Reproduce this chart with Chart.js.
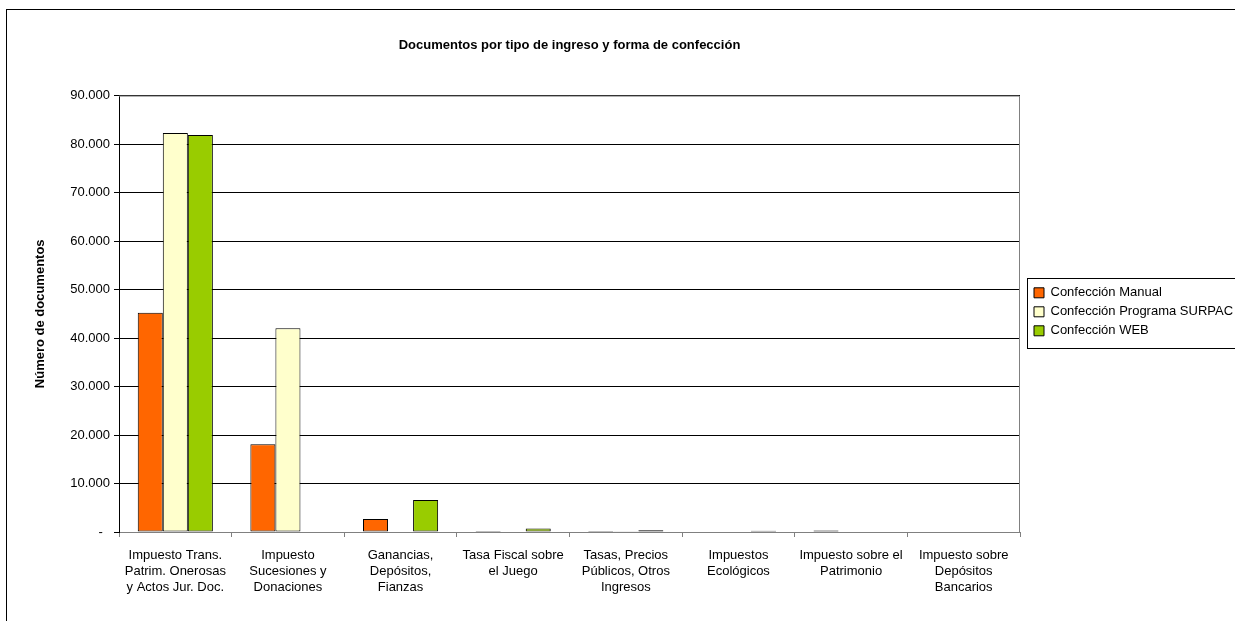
<!DOCTYPE html>
<html>
<head>
<meta charset="utf-8">
<script src="https://cdn.jsdelivr.net/npm/chart.js@4/dist/chart.umd.min.js"></script>
<style>
  html, body { margin: 0; padding: 0; background: #fff; overflow: hidden; width: 1235px; height: 621px; }
  #frame { position: absolute; left: 6px; top: 9px; width: 1240px; height: 620px; border: 1px solid #000; }
  #chart { display: block; }
</style>
</head>
<body>
<div id="frame"><canvas id="chart" width="1240" height="612"></canvas></div>
<script>
const categories = [
  ['Impuesto Trans.', 'Patrim. Onerosas', 'y Actos Jur. Doc.'],
  ['Impuesto', 'Sucesiones y', 'Donaciones'],
  ['Ganancias,', 'Depósitos,', 'Fianzas'],
  ['Tasa Fiscal sobre', 'el Juego'],
  ['Tasas, Precios', 'Públicos, Otros', 'Ingresos'],
  ['Impuestos', 'Ecológicos'],
  ['Impuesto sobre el', 'Patrimonio'],
  ['Impuesto sobre', 'Depósitos', 'Bancarios'],
];

const manual = [45200, 18100, 2700, 200, 200, null, 300, null];
const surpac = [82300, 42000, null, null, 150, null, null, null];
const web = [81900, null, 6600, 700, 350, 250, null, null];

const yTicks = [0, 10000, 20000, 30000, 40000, 50000, 60000, 70000, 80000, 90000];

const fontFamily = '"Liberation Sans", Arial, sans-serif';

const fmtThousands = (v) => {
  if (v === 0) return '-  ';
  return String(v).replace(/\B(?=(\d{3})+(?!\d))/g, '.');
};

// gray frame round the plot area and box round the legend
const framePlugin = {
  id: 'frames',
  afterLayout(chart) {
    // push legend a little away from the plot, like the original
    const lg = chart.legend;
    if (!lg) return;
    lg.left += 8;
    lg.right += 8;
    lg.top -= 2;
    lg.bottom -= 2;
  },
  beforeDatasetsDraw(chart) {
    const { ctx, chartArea: a } = chart;
    ctx.save();
    ctx.strokeStyle = '#808080';
    ctx.lineWidth = 1;
    ctx.beginPath();
    ctx.moveTo(a.left, a.top + 0.5);
    ctx.lineTo(a.right - 0.5, a.top + 0.5);
    ctx.lineTo(a.right - 0.5, a.bottom);
    ctx.stroke();
    ctx.restore();
  },
  afterDraw(chart) {
    const boxes = chart.legend && chart.legend.legendHitBoxes;
    if (!boxes || !boxes.length) return;
    const { ctx } = chart;
    const first = boxes[0];
    const last = boxes[boxes.length - 1];
    const top = Math.round(first.top + first.height / 2 - 15) + 0.5;
    const bottom = Math.round(last.top + last.height / 2 + 17) + 0.5;
    const left = Math.round(first.left - 7) + 0.5;
    ctx.save();
    ctx.strokeStyle = '#000';
    ctx.lineWidth = 1;
    ctx.strokeRect(left, top, chart.width + 20 - left, bottom - top);
    ctx.restore();
  },
};

const ctx = document.getElementById('chart');

new Chart(ctx, {
  type: 'bar',
  data: {
    labels: categories,
    datasets: [
      {
        label: 'Confección Manual',
        data: manual,
        backgroundColor: '#FF6600',
        borderColor: '#000',
        borderWidth: 1,
      },
      {
        label: 'Confección Programa SURPAC',
        data: surpac,
        backgroundColor: '#FFFFCC',
        borderColor: '#000',
        borderWidth: 1,
      },
      {
        label: 'Confección WEB',
        data: web,
        backgroundColor: '#99CC00',
        borderColor: '#000',
        borderWidth: 1,
      },
    ],
  },
  plugins: [framePlugin],
  options: {
    responsive: false,
    animation: false,
    devicePixelRatio: 1,
    layout: { padding: { left: 0, right: 12, top: 0, bottom: 17 } },
    datasets: {
      bar: { categoryPercentage: 0.667, barPercentage: 1, borderSkipped: false },
    },
    plugins: {
      tooltip: { enabled: false },
      title: {
        display: true,
        fullSize: false,
        text: 'Documentos por tipo de ingreso y forma de confección',
        color: '#000',
        font: { family: fontFamily, size: 13, weight: 'bold' },
        padding: { top: 28, bottom: 42 },
      },
      legend: {
        position: 'right',
        align: 'center',
        fullSize: false,
        maxWidth: 215,
        labels: {
          color: '#000',
          boxWidth: 10,
          boxHeight: 10,
          padding: 6,
          font: { family: fontFamily, size: 13 },
        },
      },
    },
    scales: {
      x: {
        offset: true,
        grid: {
          offset: true,
          drawOnChartArea: false,
          color: '#808080',
          tickLength: 5,
        },
        border: { color: '#808080' },
        ticks: {
          color: '#000',
          maxRotation: 0,
          autoSkip: false,
          padding: 10,
          font: { family: fontFamily, size: 13, lineHeight: 16 / 13 },
        },
      },
      y: {
        min: 0,
        max: 90000,
        afterBuildTicks(scale) {
          scale.ticks = yTicks.map((v) => ({ value: v }));
        },
        afterFit(scale) {
          scale.width = 112;
        },
        grid: { color: '#000', tickLength: 5 },
        border: { color: '#000' },
        ticks: {
          color: '#000',
          padding: 4,
          font: { family: fontFamily, size: 13 },
          callback: (v) => fmtThousands(v),
        },
        title: {
          display: true,
          text: 'Número de documentos',
          color: '#000',
          font: { family: fontFamily, size: 13, weight: 'bold' },
          padding: { top: 26, bottom: 0 },
        },
      },
    },
  },
});
</script>
</body>
</html>
